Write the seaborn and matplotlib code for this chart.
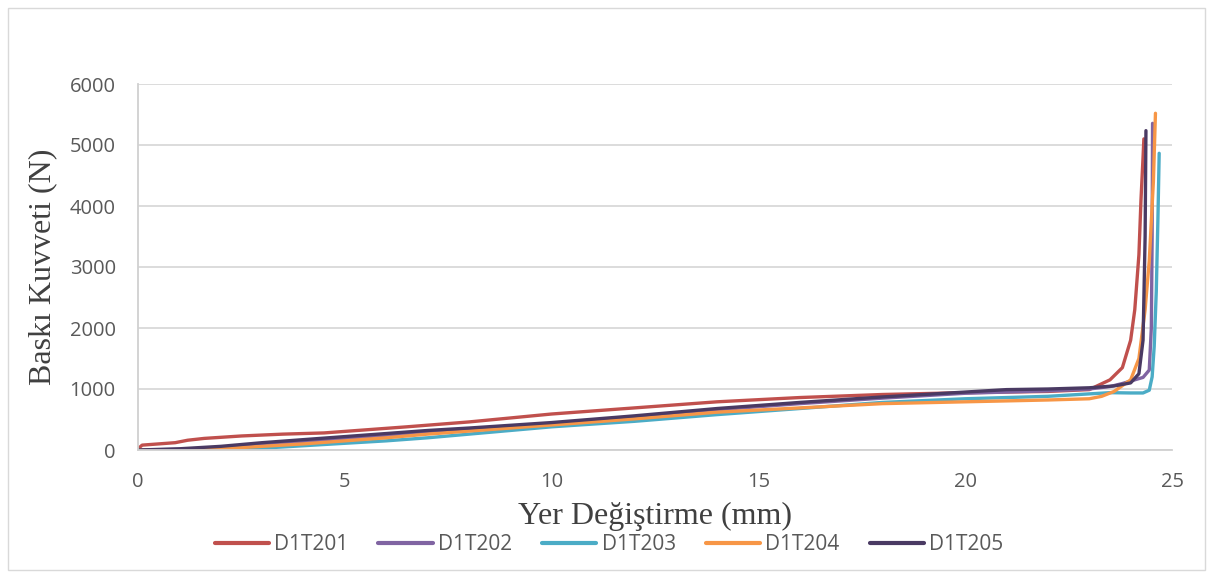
import matplotlib
matplotlib.use("Agg")
import matplotlib.pyplot as plt
import seaborn as sns
import pandas as pd
from matplotlib.patches import Rectangle

# ---- data ----
names = ["D1T201", "D1T202", "D1T203", "D1T204", "D1T205"]
colors = ["#C0504D", "#8064A2", "#4BACC6", "#F79646", "#4A3A63"]

x_201 = [0, 0.1, 0.5, 0.9, 1.2, 1.6, 2.5, 3.5, 4.5, 5.5, 6.5, 8, 10, 12, 14, 16, 18, 20, 22, 23, 23.5, 23.8, 24.0, 24.1, 24.2, 24.25, 24.3, 24.32]
y_201 = [20, 80, 100, 120, 160, 190, 230, 260, 280, 330, 380, 460, 590, 690, 790, 860, 910, 940, 960, 990, 1150, 1350, 1800, 2300, 3200, 4100, 4800, 5100]

x_202 = [0, 1, 2, 3, 4, 5, 6, 7, 8, 10, 12, 14, 16, 18, 20, 22, 23, 23.5, 23.8, 24.1, 24.3, 24.45, 24.5, 24.52, 24.53]
y_202 = [0, 10, 40, 90, 140, 190, 240, 290, 340, 430, 540, 660, 760, 850, 930, 970, 1000, 1040, 1090, 1150, 1190, 1310, 2000, 3500, 5355]

x_203 = [0, 1, 2, 3, 4, 5, 6, 7, 8, 10, 12, 14, 16, 18, 20, 22, 23, 23.5, 24.0, 24.3, 24.45, 24.52, 24.57, 24.62, 24.66, 24.69]
y_203 = [0, 0, 5, 30, 70, 110, 150, 200, 260, 380, 470, 580, 680, 780, 840, 880, 920, 940, 935, 935, 980, 1200, 1700, 2600, 3800, 4864]

x_204 = [0, 1, 1.5, 2, 3, 4, 5, 6, 7, 8, 10, 12, 14, 16, 18, 20, 22, 23, 23.3, 23.6, 24.0, 24.2, 24.35, 24.45, 24.55, 24.6]
y_204 = [0, 0, 5, 20, 60, 100, 150, 200, 260, 310, 410, 510, 620, 690, 760, 790, 820, 840, 880, 960, 1150, 1500, 2300, 3100, 4400, 5520]

x_205 = [0, 1, 2, 3, 4, 5, 6, 7, 8, 10, 12, 14, 16, 18, 20, 21, 22, 23, 23.6, 24.0, 24.2, 24.3, 24.35, 24.37]
y_205 = [0, 20, 60, 120, 170, 220, 270, 320, 360, 450, 560, 680, 780, 870, 950, 990, 1000, 1020, 1050, 1100, 1250, 1800, 3500, 5235]

x_ticks = [0, 5, 10, 15, 20, 25]
y_ticks = [0, 1000, 2000, 3000, 4000, 5000, 6000]
x_label = "Yer Değiştirme (mm)"
y_label = "Baskı Kuvveti (N)"

xs = [x_201, x_202, x_203, x_204, x_205]
ys = [y_201, y_202, y_203, y_204, y_205]
frames = []
for n, xv, yv in zip(names, xs, ys):
    frames.append(pd.DataFrame({"x": xv, "y": yv, "series": n}))
df = pd.concat(frames, ignore_index=True)

sns.set_theme(style="white")
plt.rcParams["font.family"] = ["Open Sans", "DejaVu Sans"]

fig = plt.figure(figsize=(12.13, 5.79), dpi=100)
ax = fig.add_axes([138/1213, 1-450/579, (1172-138)/1213, (450-84)/579])

sns.lineplot(data=df, x="x", y="y", hue="series", hue_order=names,
             palette=colors, sort=False, estimator=None, linewidth=2.4,
             ax=ax, legend=True)

ax.set_xlim(0, 25)
ax.set_ylim(0, 6000)
ax.set_xticks(x_ticks)
ax.set_yticks(y_ticks)
ax.yaxis.grid(True, color="#D9D9D9", linewidth=1.3)
ax.xaxis.grid(False)
for s in ["top", "right"]:
    ax.spines[s].set_visible(False)
for s in ["left", "bottom"]:
    ax.spines[s].set_color("#D0D0D0")
    ax.spines[s].set_linewidth(1.3)
ax.tick_params(axis="both", labelsize=14.5, colors="#595959", length=0)
ax.tick_params(axis="y", pad=16)
ax.tick_params(axis="x", pad=16)

ax.set_xlabel(x_label, fontsize=23, family=["Liberation Serif"], color="#404040", labelpad=7)
ax.set_ylabel(y_label, fontsize=23, family=["Liberation Serif"], color="#404040", labelpad=9)

handles, labels = ax.get_legend_handles_labels()
ax.legend(handles, labels, loc="center", bbox_to_anchor=(609/1213, 1-545/579),
          bbox_transform=fig.transFigure, ncol=5, frameon=False, fontsize=15,
          handlelength=2.6, handletextpad=0.25, columnspacing=1.45,
          labelcolor="#595959")
for h in ax.get_legend().get_lines():
    h.set_linewidth(3)

fig.patches.append(Rectangle((8/1213, 1-570/579), (1205-8)/1213, (570-8)/579,
                             transform=fig.transFigure, fill=False,
                             edgecolor="#D9D9D9", linewidth=1.0))

fig.savefig("out.png", dpi=100, facecolor="white")
